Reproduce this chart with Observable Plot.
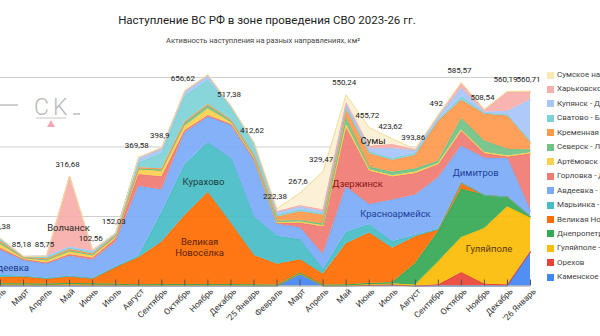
<!DOCTYPE html>
<html><head><meta charset="utf-8">
<script src="https://cdn.jsdelivr.net/npm/d3@7"></script>
<script src="https://cdn.jsdelivr.net/npm/@observablehq/plot@0.6"></script>
<style>
html,body{margin:0;padding:0;background:#fff;overflow:hidden;width:600px;height:336px;font-family:Roboto,"Noto Sans",sans-serif}
#wrap{position:relative;width:600px;height:336px;overflow:hidden}
#title{position:absolute;left:0;width:534px;top:13px;text-align:center;font-size:11.5px;color:#222;white-space:nowrap}
#subtitle{position:absolute;left:0;width:526px;top:36px;text-align:center;font-size:7.5px;color:#444;white-space:nowrap}
#chart{position:absolute;left:0;top:50px}
#legend{position:absolute;left:0;top:0;width:600px;height:336px;pointer-events:none}
.li{position:absolute;left:557px;white-space:nowrap;font-size:8px;color:#444;line-height:10px}
.sw{position:absolute;left:547px;width:7px;height:7px}
#wm{position:absolute;left:0;top:0}
</style></head>
<body><div id="wrap">
<div id="title">Наступление ВС РФ в зоне проведения СВО 2023-26 гг.</div>
<div id="subtitle">Активность наступления на разных направлениях, км²</div>
<div id="chart"></div>
<svg id="wm" width="100" height="140">
  <line x1="0" y1="105" x2="18" y2="105" stroke="#bdbdbd" stroke-width="1.5"/>
  <text x="34" y="115" font-size="23" fill="#b9b9b9" letter-spacing="4" font-family="Roboto" font-weight="300">CK</text>
  <line x1="36" y1="118" x2="66" y2="118" stroke="#c6c6c6" stroke-width="1"/>
  <polygon points="47,127 55,127 51,120" fill="#f3a7b4"/>
  <line x1="73" y1="114" x2="80" y2="114" stroke="#bdbdbd" stroke-width="1.5"/>
</svg>
<div id="legend"></div>
</div>
<script>
const months = ["Февраль","Март","Апрель","Май","Июнь","Июль","Август","Сентябрь","Октябрь","Ноябрь","Декабрь","'25 Январь","Февраль","Март","Апрель","Май","Июнь","Июль","Август","Сентябрь","Октябрь","Ноябрь","Декабрь","'26 Январь"];

// series, bottom of the stack first
const seriesNames = ["Каменское - Степногорск","Орехов","Гуляйполе - Покровское","Днепропетровская обл.","Великая Новосёлка","Марьинка - Курахово","Авдеевка - Красноармейск","Горловка - Дзержинск","Артёмовск","Северск - Лисичанск","Кременная - Лиман","Сватово - Боровая","Купянск - Двуречная","Харьковское направление","Сумское направление"];

const kamenskoe = [0,0,0,0,0,0,0,0,0,0,0,0,0,35,0,0,2,3,0,0,0,0,0,97];
const orekhov   = [4,4,3,4,3,3,2,2,2,2,2,1,1,0,1,1,0,0,0,3,38,5,3,2];
const gulyaypole= [0,0,0,0,0,0,0,0,0,0,0,0,0,0,0,0,3,3,2,66,101,160,224,96];
const dnepr     = [2,2,2,3,3,2,1,2,2,2,2,2,1,2,1,2,2,3,62,87,139,96,29,5];
const velNovos  = [18,20,15,20,15,48,78,122,198,264,175,84,60,38,31,118,145,99,77,5,19,0,0,0];
const marinka   = [6,2,2,1,1,2,5,85,147,144,187,110,81,58,14,33,24,19,5,2,0,0,0,0];
const avdeevka  = [72,45,41,57,52,70,200,65,91,74,96,165,34,34,43,130,58,120,115,148,105,106,110,15];
const gorlovka  = [6,3,3,5,6,10,34,38,7,4,3,3,3,14,80,169,96,67,62,38,43,14,5,165];
const artemovsk = [10,3,6,8,6,5,14,15,12,19,5,4,2,3,3,10,4,3,4,3,3,3,3,3];
const seversk   = [5,2,3,3,3,3,3,5,10,10,4,4,4,4,5,19,8,10,10,7,33,33,19,8];
const kremennaya= [5,2,3,4,3,3,3,3,3,3,3,3,12,25,25,24,38,34,38,115,53,77,96,20];
const svatovo   = [4,1,4,4,4,3,14,45,75,70,38,30,6,6,5,8,6,6,6,4,10,3,3,5];
const kupyansk  = [4.38,1.18,3.75,3,4,3,15.58,14,12,12,2.38,5,8,8,6,8,8,28,8,8,24,3,10,120];
const kharkov   = [0,0,0,204.68,2.56,0.03,0,0,2,2,0,1.62,2,4,5,5,8,12,3,4,14,5,55,22];
const sumy      = [0,0,0,0,0,0,0,2.9,1,2,0,0,8.38,36.6,110.47,23.24,53.72,16.62,1.86,2,3.57,3.54,3.19,2.71];

const seriesValues = [kamenskoe,orekhov,gulyaypole,dnepr,velNovos,marinka,avdeevka,gorlovka,artemovsk,seversk,kremennaya,svatovo,kupyansk,kharkov,sumy];

const totalLabels = ["136,38","85,18","85,75","316,68","102,56","152,03","369,58","398,9","656,62",null,"517,38","412,62","222,38","267,6","329,47","550,24","455,72","423,62","393,86","492","585,57","508,54","560,19","560,71"];

const annoText = ["Волчанск","Авдеевка","Курахово","Великая\nНовосёлка","Дзержинск","Сумы","Красноармейск","Димитров","Гуляйполе"];
const annoMonth = [2.95,0.3,8.81,8.64,15.5,16.17,17.14,20.62,21.2];
const annoValue = [168,53,301,113,294,419,208,326,109];
const annoColor = ["#2a2a2a","#1a3a8c","#1d3a40","#5c1f00","#8a1414","#222222","#1f3f9a","#1f3f9a","#5a3900"];

const fillColors = ["#4285f4","#ea4335","#fbbc04","#34a853","#ff6d01","#46bdc6","#7baaf7","#f07b72","#fcd04f","#71c287","#ff994d","#7ed1d7","#a8c6fa","#f6aea9","#fcf0d2"];
const lineColors = ["#4285f4","#ea4335","#fbbc04","#34a853","#ff6d01","#46bdc6","#7baaf7","#f07b72","#fcd04f","#71c287","#ff994d","#7ed1d7","#a8c6fa","#f6aea9","#f0df9c"];
const legendColors = ["#4285f4","#ea4335","#fbbc04","#34a853","#ff6d01","#46bdc6","#7baaf7","#f07b72","#fcd04f","#71c287","#ff994d","#7ed1d7","#a8c6fa","#f6aea9","#fce8b2"];

const table = seriesNames.flatMap((s, k) => seriesValues[k].map((v, i) => ({s, i, v})));
const totals = months.map((m, i) => ({i, total: d3.sum(seriesValues, a => a[i]), label: totalLabels[i]})).filter(d => d.label);
const annos = annoText.map((t, k) => ({t, x: annoMonth[k], y: annoValue[k], c: annoColor[k]}));
const idx = d3.range(months.length);

const chart = Plot.plot({
  width: 545, height: 286,
  marginLeft: 0, marginRight: 15, marginTop: 9.625, marginBottom: 50.5,
  x: {domain: [0, months.length - 1]},
  y: {domain: [0, 650]},
  color: {domain: seriesNames, range: fillColors},
  style: {fontFamily: "Roboto, sans-serif", background: "transparent", overflow: "visible"},
  marks: [
    Plot.gridY([200, 400, 600], {stroke: "#cfcfcf", strokeOpacity: 1}),
    Plot.areaY(table, {x: "i", y: "v", z: "s", fill: "s", order: seriesNames, fillOpacity: 0.92}),
    Plot.lineY(table, Plot.stackY2({x: "i", y: "v", z: "s", order: seriesNames, stroke: d => lineColors[seriesNames.indexOf(d.s)], strokeWidth: 1})),
    Plot.ruleY([0], {stroke: "#9a9a9a"}),
    Plot.axisX({ticks: idx, tickSize: 6, dy: -6, tickFormat: () => "", stroke: "#555"}),
    Plot.axisX({ticks: idx, tickSize: 0, tickPadding: 4, dx: 4, tickRotate: -45, tickFormat: i => months[i], fontSize: 8.5, color: "#333"}),
    Plot.text(totals, {x: "i", y: "total", text: "label", dy: -12, dx: -2, fontSize: 8, fill: "#222"}),
    Plot.text(annos, {x: "x", y: "y", text: "t", fill: "c", fontSize: 9.5, lineHeight: 1.2})
  ]
});
document.getElementById("chart").appendChild(chart);

const legend = document.getElementById("legend");
for (let k = seriesNames.length - 1, r = 0; k >= 0; k--, r++) {
  const top = 75 + r * 14.45;
  const sw = document.createElement("div");
  sw.className = "sw"; sw.style.top = (top - 3.5) + "px"; sw.style.background = legendColors[k];
  legend.appendChild(sw);
  const li = document.createElement("div");
  li.className = "li"; li.style.top = (top - 5) + "px"; li.textContent = seriesNames[k];
  legend.appendChild(li);
}
</script>
</body></html>
